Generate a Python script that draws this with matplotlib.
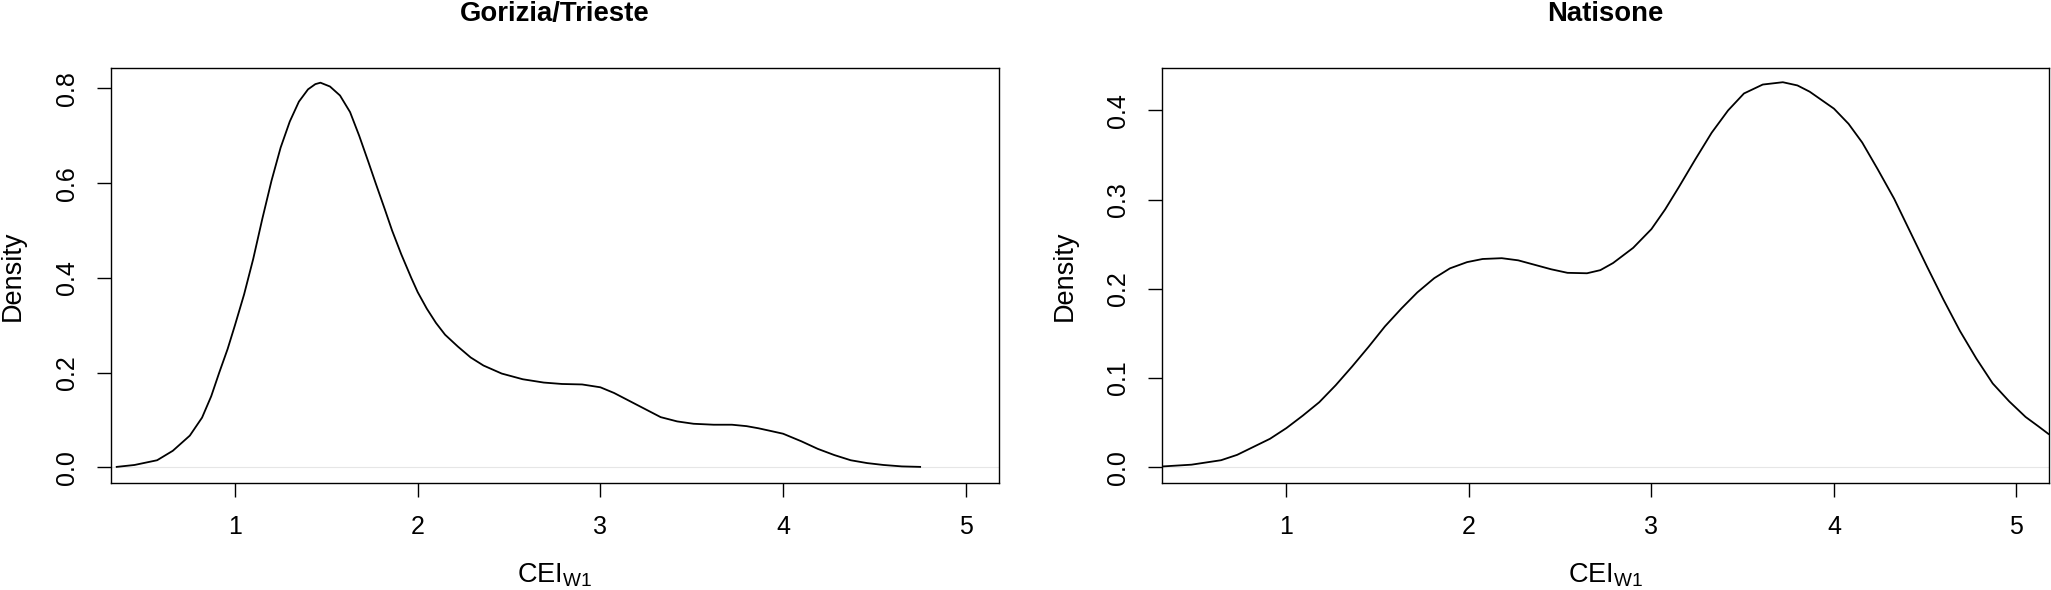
import matplotlib
matplotlib.use("Agg")
import matplotlib.pyplot as plt

plt.rcParams['font.family'] = ['Liberation Sans', 'DejaVu Sans']
plt.rcParams['mathtext.fontset'] = 'custom'
plt.rcParams['mathtext.rm'] = 'Liberation Sans'

# Gorizia/Trieste density curve
gt_x = [0.353, 0.45, 0.574, 0.66, 0.753, 0.82, 0.87, 0.914, 0.96, 1.0, 1.05, 1.1, 1.15, 1.2,
        1.25, 1.3, 1.35, 1.4, 1.44, 1.468, 1.52, 1.575, 1.63, 1.68, 1.73, 1.77, 1.82, 1.86,
        1.91, 1.965, 2.0, 2.05, 2.1, 2.15, 2.22, 2.29, 2.36, 2.46, 2.575, 2.69, 2.79, 2.9,
        3.0, 3.075, 3.15, 3.24, 3.33, 3.42, 3.51, 3.62, 3.72, 3.8, 3.865, 3.93, 4.0, 4.1,
        4.19, 4.28, 4.37, 4.46, 4.55, 4.65, 4.75]
gt_y = [0.001, 0.005, 0.015, 0.035, 0.067, 0.105, 0.15, 0.2, 0.25, 0.3, 0.365, 0.44, 0.525, 0.605,
        0.675, 0.73, 0.772, 0.798, 0.809, 0.812, 0.804, 0.785, 0.75, 0.70, 0.645, 0.60, 0.545, 0.50,
        0.45, 0.40, 0.37, 0.335, 0.305, 0.28, 0.255, 0.232, 0.215, 0.198, 0.186, 0.179, 0.176, 0.175,
        0.169, 0.157, 0.142, 0.124, 0.106, 0.097, 0.092, 0.09, 0.09, 0.087, 0.0825, 0.077, 0.071, 0.055,
        0.039, 0.026, 0.015, 0.009, 0.005, 0.002, 0.001]

# Natisone density curve
nt_x = [0.32, 0.48, 0.642, 0.73, 0.82, 0.91, 1.0, 1.09, 1.18, 1.27, 1.36, 1.45, 1.54, 1.63,
        1.717, 1.81, 1.896, 1.99, 2.075, 2.18, 2.27, 2.36, 2.45, 2.54, 2.647, 2.72, 2.79,
        2.9, 3.0, 3.075, 3.15, 3.24, 3.33, 3.42, 3.507, 3.61, 3.72, 3.8, 3.867, 3.93, 4.0,
        4.08, 4.155, 4.24, 4.33, 4.42, 4.51, 4.6, 4.69, 4.78, 4.87, 4.96, 5.05, 5.12, 5.175, 5.25]
nt_y = [0.001, 0.003, 0.008, 0.014, 0.023, 0.032, 0.044, 0.058, 0.073, 0.092, 0.113, 0.135, 0.158, 0.178,
        0.196, 0.212, 0.223, 0.23, 0.2335, 0.2344, 0.232, 0.227, 0.222, 0.218, 0.2175, 0.221, 0.229,
        0.246, 0.267, 0.289, 0.314, 0.345, 0.375, 0.4, 0.419, 0.429, 0.4316, 0.428, 0.421, 0.412, 0.402,
        0.385, 0.364, 0.334, 0.301, 0.263, 0.225, 0.188, 0.153, 0.122, 0.094, 0.074, 0.0565, 0.046, 0.0375, 0.029]

titles = ["Gorizia/Trieste", "Natisone"]
x_ticks = [1, 2, 3, 4, 5]
gt_yticks = [0.0, 0.2, 0.4, 0.6, 0.8]
nt_yticks = [0.0, 0.1, 0.2, 0.3, 0.4]

W, H = 2051, 590
fig = plt.figure(figsize=(W / 100, H / 100), dpi=100)

def add_axes(l, r, t, b):
    return fig.add_axes([l / W, 1 - b / H, (r - l) / W, (b - t) / H])

ax1 = add_axes(110.7, 998.7, 68.3, 482.7)
ax2 = add_axes(1162.3, 2049.3, 68.3, 482.7)

panels = [(ax1, gt_x, gt_y, gt_yticks, (-0.0324, 0.8424)),
          (ax2, nt_x, nt_y, nt_yticks, (-0.0172, 0.4472))]

for i, (ax, xs, ys, yt, ylim) in enumerate(panels):
    ax.axhline(0, color='#e6e6e6', lw=0.8, zorder=1)
    ax.plot(xs, ys, color='black', lw=1.3, zorder=2, solid_joinstyle='round')
    ax.set_xlim(0.32, 5.18)
    ax.set_ylim(*ylim)
    ax.set_xticks(x_ticks)
    ax.set_xticklabels([str(v) for v in x_ticks])
    ax.set_yticks(yt)
    ax.set_yticklabels(["%.1f" % v for v in yt], rotation=90, va='center')
    ax.tick_params(axis='both', direction='out', length=10, width=1.0, labelsize=18, pad=13)
    for s in ax.spines.values():
        s.set_linewidth(1.0)
    ax.set_title(titles[i], fontsize=19.8, fontweight='bold', y=1.114, pad=0)
    ax.set_xlabel(r"CEI$_{\mathrm{W1}}$", fontsize=19.5)
    ax.xaxis.set_label_coords(0.5, -0.2227)
    ax.xaxis.label.set_va('center')
    ax.set_ylabel("Density", fontsize=19.5)
    ax.yaxis.set_label_coords(-0.110, 0.5)
    ax.yaxis.label.set_va('center')

fig.savefig("out.png", dpi=100)
